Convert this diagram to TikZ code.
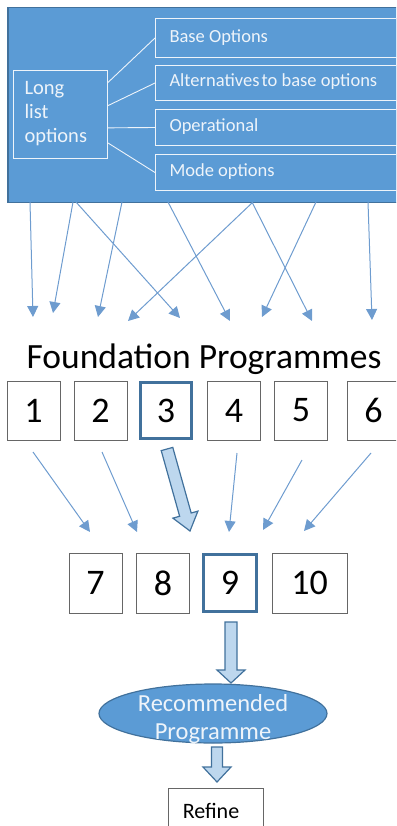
\documentclass[tikz,border=0pt]{standalone}
\usepackage{fontspec}
\setmainfont{Carlito}
\usetikzlibrary{calc,arrows.meta,shapes.geometric}
\definecolor{mblue}{HTML}{5B9BD5}
\definecolor{dblue}{HTML}{41719C}
\definecolor{lblue}{HTML}{BDD7EE}
\definecolor{abl}{HTML}{6E9CCF}
\definecolor{wtxt}{HTML}{EEF4FA}
\tikzset{
  inbox/.style={draw=wtxt, line width=1pt, fill=mblue, text=wtxt, inner sep=0pt},
  link/.style={draw=wtxt, line width=0.9pt},
  thin arrow/.style={draw=abl, line width=1pt, -{Triangle[width=11pt,length=11pt]}},
  numbox/.style={draw=gray!80!black, line width=0.7pt, fill=white, minimum width=53pt, minimum height=59pt, inner sep=0pt, font=\fontsize{36}{40}\selectfont},
  bold box/.style={draw=dblue, line width=3pt},
  blockarrow/.style={fill=lblue, draw=dblue, line width=1.2pt, line join=miter},
}
% block arrow: #1 start, #2 end, #3 half shaft, #4 half head, #5 head length
\newcommand{\blockarr}[5]{%
  \draw[blockarrow] ($(#1)!#3!90:(#2)$) --
    ($($(#2)!#5!(#1)$)!#3!-90:(#1)$) --
    ($($(#2)!#5!(#1)$)!#4!-90:(#1)$) -- (#2) --
    ($($(#2)!#5!(#1)$)!#4!90:(#1)$) --
    ($($(#2)!#5!(#1)$)!#3!90:(#1)$) --
    ($(#1)!#3!-90:(#2)$) -- cycle;}
\begin{document}
\begin{tikzpicture}[x=1pt,y=-1pt]
\useasboundingbox (0,0) rectangle (396,826);
\clip (0,0) rectangle (396,826);
% top panel
\node[draw=dblue, line width=1.5pt, fill=mblue, minimum width=400pt, minimum height=195pt, anchor=north west, inner sep=0pt] (top) at (7,7) {};
\node[inbox, minimum width=94pt, minimum height=88pt, anchor=north west] (long) at (13,70) {};
\node[anchor=west, align=left, text=wtxt, font=\fontsize{20.5}{24}\selectfont] (longt) at (21,114) {Long\\list\\options};
\node[inbox, minimum width=260pt, minimum height=39pt, anchor=north west] (b1) at (155,18) {};
\node[inbox, minimum width=260pt, minimum height=35pt, anchor=north west] (b2) at (155,65) {};
\node[inbox, minimum width=260pt, minimum height=36pt, anchor=north west] (b3) at (155,109) {};
\node[inbox, minimum width=260pt, minimum height=36pt, anchor=north west] (b4) at (155,154) {};
\node[anchor=west, text=wtxt, font=\fontsize{18.5}{20}\selectfont] (t1) at (166,38) {Base Options};
\node[anchor=west, text=wtxt, font=\fontsize{18.5}{20}\selectfont] (t2) at (166,82) {Alternatives\hspace{-2pt} to base options};
\node[anchor=west, text=wtxt, font=\fontsize{18.5}{20}\selectfont] (t3) at (166,127) {Operational};
\node[anchor=west, text=wtxt, font=\fontsize{18.5}{20}\selectfont] (t4) at (166,172) {Mode options};
\draw[link] ($(long.north east)!0.14!(long.south east)$) -- (b1.west);
\draw[link] ($(long.north east)!0.40!(long.south east)$) -- (b2.west);
\draw[link] ($(long.north east)!0.65!(long.south east)$) -- (b3.west);
\draw[link] ($(long.north east)!0.82!(long.south east)$) -- (b4.west);
% arrow start and end coordinates
\foreach \n/\sx/\ex/\ey in {a1/30/33/317, a2/73/53/313, a3/76/180/318, a4/122/98/317, a5/168/230/321, a6/253/128/321, a7/252/312/321, a8/316/262/317, a9/368/372/320}{
  \coordinate (\n s) at (\sx,202);
  \coordinate (\n e) at (\ex,\ey);
}
\foreach \n in {a1,a2,a3,a4,a5,a6,a7,a8,a9}{
  \draw[thin arrow] (\n s) -- (\n e);
}
% Foundation
\node[font=\fontsize{35.5}{40}\selectfont, anchor=base] (found) at (204,368) {Foundation Programmes};
\node[numbox] (n1) at (33.5,410.5) {1};
\node[numbox] (n2) at (100.5,410.5) {2};
\node[numbox, bold box, minimum width=51pt, minimum height=56pt] (n3) at (166,410.5) {3};
\node[numbox] (n4) at (234,410.5) {4};
\node[numbox] (n5) at (301,410.5) {5};
\node[numbox] (n6) at (373.5,410.5) {6};
% second row
\node[numbox, minimum height=60pt] (n7) at (95.5,583) {7};
\node[numbox, minimum height=60pt] (n8) at (163,583) {8};
\node[numbox, bold box, minimum width=53pt, minimum height=57pt] (n9) at (230,583) {9};
\node[numbox, minimum width=75pt, minimum height=60pt] (n10) at (309.5,583) {10};
% arrows row1 -> row2
\coordinate (c1s) at (33,452); \coordinate (c1e) at (90,532);
\coordinate (c2s) at (102,452); \coordinate (c2e) at (137,532);
\coordinate (c4s) at (237,453); \coordinate (c4e) at (229,532);
\coordinate (c5s) at (302,460); \coordinate (c5e) at (263,530);
\coordinate (c6s) at (371,453); \coordinate (c6e) at (304,531);
\foreach \n in {c1,c2,c4,c5,c6}{ \draw[thin arrow] (\n s) -- (\n e); }
\coordinate (c3s) at (167,449); \coordinate (c3e) at (190,531);
\blockarr{c3s}{c3e}{6pt}{13pt}{17pt}
% recommended
\node[ellipse, fill=mblue, draw=dblue, line width=1.2pt, minimum width=228pt, minimum height=59pt, inner sep=0pt] (rec) at (213,713.5) {};
\node[text=wtxt, align=center, font=\fontsize{24.5}{28}\selectfont] (rect) at (213,719) {Recommended\\Programme};
\coordinate (d1s) at (231,622); \coordinate (d1e) at (231,683);
\blockarr{d1s}{d1e}{6pt}{14pt}{13pt}
\coordinate (d2s) at (217,747); \coordinate (d2e) at (217,782);
\blockarr{d2s}{d2e}{5.5pt}{14pt}{15pt}
\node[draw=gray!80!black, line width=0.7pt, minimum width=95pt, minimum height=50pt, anchor=north west, inner sep=0pt] (ref) at (168,788) {};
\node[font=\fontsize{22}{24}\selectfont] (reft) at (211,811) {Refine};
\end{tikzpicture}
\end{document}
